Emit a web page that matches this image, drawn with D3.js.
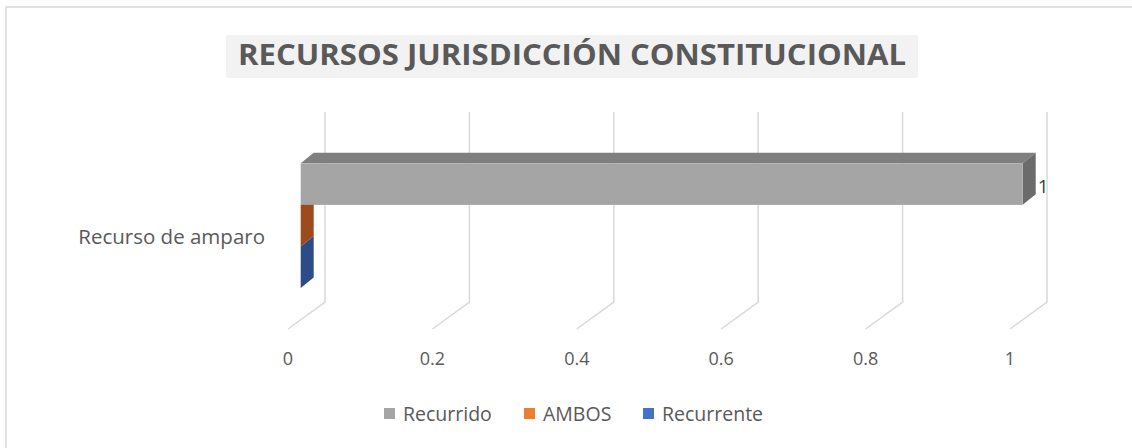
<!DOCTYPE html>
<html>
<head>
<meta charset="utf-8">
<script src="https://cdn.jsdelivr.net/npm/d3@7"></script>
<style>
  body { margin: 0; background: #fff; }
  text { font-family: "Open Sans", "Liberation Sans", sans-serif; }
</style>
</head>
<body>
<svg id="chart" width="1132" height="448"></svg>
<script>
// data
var categories = ["Recurso de amparo"];
var seriesNames = ["Recurrido", "AMBOS", "Recurrente"];
var seriesValues = [[1], [0], [0]];
var tickValues = [0, 0.2, 0.4, 0.6, 0.8, 1];
var tickLabels = ["0", "0.2", "0.4", "0.6", "0.8", "1"];

var legendColors = ["#A5A5A5", "#ED7D31", "#4472C4"];
var frontColors = ["#A5A5A5", "#ED7D31", "#4472C4"];
var topColors = ["#7F7F7F", "#B25E25", "#33569A"];
var sideColors = ["#6B6B6B", "#9C4B1C", "#2B4C86"];

var svg = d3.select("#chart");

// 3d depth offsets
var bdx = 13, bdy = -10.5;      // bar depth
var wallDx = 37, wallDy = -27;  // floor depth to back wall

// x scale for bar front plane
var x = d3.scaleLinear().domain([0, 1]).range([300.7, 1022.7]);
var floorX = function(v) { return x(v) - 12.7; };
var floorY = 329;

// category band + series band
var yCat = d3.scaleBand().domain(categories).range([163.3, 288]).padding(0);
var ySer = d3.scaleBand().domain(seriesNames).range([0, yCat.bandwidth()]).padding(0);

// border (top and left only visible)
svg.append("path")
    .attr("d", "M6,448 L6,7 L1132,7")
    .attr("fill", "none")
    .attr("stroke", "#D9D9D9")
    .attr("stroke-width", 1.5);

// gridlines: back wall verticals + floor diagonals
var grid = svg.append("g").attr("class", "grid");
grid.selectAll("path")
    .data(tickValues)
    .enter()
    .append("path")
    .attr("d", function(d) {
        var fx = floorX(d);
        return "M" + fx + "," + floorY +
               " L" + (fx + wallDx) + "," + (floorY + wallDy) +
               " L" + (fx + wallDx) + ",112";
    })
    .attr("fill", "none")
    .attr("stroke", "#D9D9D9")
    .attr("stroke-width", 1.5);

// tick labels
svg.append("g").selectAll("text")
    .data(tickValues)
    .enter()
    .append("text")
    .attr("x", function(d) { return floorX(d); })
    .attr("y", 365)
    .attr("text-anchor", "middle")
    .attr("font-size", 18)
    .attr("fill", "#595959")
    .text(function(d, i) { return tickLabels[i]; });

// category label
svg.append("g").selectAll("text")
    .data(categories)
    .enter()
    .append("text")
    .attr("x", 265)
    .attr("y", function(d) { return yCat(d) + yCat.bandwidth() / 2 + 18; })
    .attr("text-anchor", "end")
    .attr("font-size", 20.5)
    .attr("fill", "#595959")
    .text(function(d) { return d; });

// bars - draw bottom series first so the top one overlaps
var bars = [];
seriesNames.forEach(function(s, si) {
    categories.forEach(function(c, ci) {
        bars.push({ s: s, si: si, c: c, v: seriesValues[si][ci] });
    });
});
bars.reverse();

var barG = svg.append("g").attr("class", "bars");
bars.forEach(function(b) {
    var y0 = yCat(b.c) + ySer(b.s);
    var y1 = y0 + ySer.bandwidth();
    var x0 = x(0), x1 = x(b.v);
    var g = barG.append("g");
    if (b.v === 0) {
        // only the left side face shows
        g.append("path")
            .attr("d", "M" + x0 + "," + y0 + " L" + (x0 + bdx) + "," + (y0 + bdy) +
                       " L" + (x0 + bdx) + "," + (y1 + bdy) + " L" + x0 + "," + y1 + "Z")
            .attr("fill", sideColors[b.si]);
        return;
    }
    // top face
    g.append("path")
        .attr("d", "M" + x0 + "," + y0 + " L" + (x0 + bdx) + "," + (y0 + bdy) +
                   " L" + (x1 + bdx) + "," + (y0 + bdy) + " L" + x1 + "," + y0 + "Z")
        .attr("fill", topColors[b.si]);
    // right face
    g.append("path")
        .attr("d", "M" + x1 + "," + y0 + " L" + (x1 + bdx) + "," + (y0 + bdy) +
                   " L" + (x1 + bdx) + "," + (y1 + bdy) + " L" + x1 + "," + y1 + "Z")
        .attr("fill", sideColors[b.si]);
    // front face
    g.append("rect")
        .attr("x", x0)
        .attr("y", y0)
        .attr("width", x1 - x0)
        .attr("height", y1 - y0)
        .attr("fill", frontColors[b.si]);
    // data label
    g.append("text")
        .attr("x", x1 + bdx + 2)
        .attr("y", (y0 + y1) / 2 + 9)
        .attr("font-size", 19)
        .attr("fill", "#404040")
        .text(b.v);
});

// title
svg.append("rect")
    .attr("x", 226).attr("y", 35)
    .attr("width", 692).attr("height", 43)
    .attr("fill", "#F2F2F2");
svg.append("text")
    .attr("x", 572)
    .attr("y", 65)
    .attr("text-anchor", "middle")
    .attr("font-size", 29)
    .attr("font-weight", "bold")
    .attr("fill", "#595959")
    .attr("textLength", 668)
    .attr("lengthAdjust", "spacingAndGlyphs")
    .text("RECURSOS JURISDICCIÓN CONSTITUCIONAL");

// legend
var legendX = [384, 524, 643];
var legend = svg.append("g").selectAll("g")
    .data(seriesNames)
    .enter()
    .append("g")
    .attr("transform", function(d, i) { return "translate(" + legendX[i] + ",408)"; });
legend.append("rect")
    .attr("width", 11).attr("height", 11)
    .attr("fill", function(d, i) { return legendColors[i]; });
legend.append("text")
    .attr("x", 19)
    .attr("y", 13)
    .attr("font-size", 19.5)
    .attr("fill", "#595959")
    .text(function(d) { return d; });
</script>
</body>
</html>
